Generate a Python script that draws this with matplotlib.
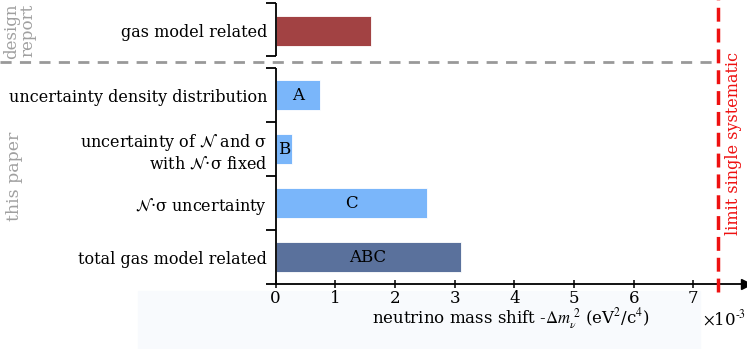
import numpy as np
import matplotlib
matplotlib.use("Agg")
import matplotlib.pyplot as plt
from matplotlib.patches import Rectangle

plt.rcParams['font.family'] = ['DejaVu Serif']
plt.rcParams['mathtext.fontset'] = 'stix'

# data (units of 1e-3 eV^2/c^4)
labels = ['total gas model related',
          r'$\mathcal{N}$·σ uncertainty',
          'uncertainty of $\\mathcal{N}$ and σ\nwith $\\mathcal{N}$·σ fixed',
          'uncertainty density distribution',
          'gas model related']
ypos = [0, 1, 2, 3, 4.19]
values = [3.1, 2.53, 0.27, 0.75, 1.6]
bar_text = ['ABC', 'C', 'B', 'A', '']
colors = ['#5a719c', '#7ab6fa', '#7ab6fa', '#7ab6fa', '#a24243']
limit = 7.42

fig = plt.figure(figsize=(7.47, 3.49), dpi=100)
ax = fig.add_axes([0.369, 0.1862, 0.6296, 0.8138])

# faint band behind the x label
fig.patches.append(Rectangle((138/747, 0), (700-138)/747, 58/349, transform=fig.transFigure,
                             color='#f8fafd', zorder=-1))

ax.barh(ypos, values, height=0.55, color=colors, edgecolor='white', linewidth=0.6, zorder=2)
for y, v, t in zip(ypos, values, bar_text):
    if t:
        ax.text(v/2, y, t, ha='center', va='center', fontsize=12, zorder=3)

ax.set_xlim(0, 7.88)
ax.set_ylim(-0.5, 4.76)

# y axis: two segments with bracket ticks
for spine in ['left', 'top', 'right']:
    ax.spines[spine].set_visible(False)
ax.spines['bottom'].set_linewidth(1.3)
ax.vlines(0, -0.5, 3.5, color='black', lw=1.3, clip_on=False, zorder=4)
ax.vlines(0, 3.72, 4.71, color='black', lw=1.3, clip_on=False, zorder=4)
ax.set_yticks(ypos)
ax.set_yticklabels(labels, fontsize=11.5)
ax.tick_params(axis='y', which='major', length=0, pad=6)
ax.set_yticks([-0.5, 0.5, 1.5, 2.5, 3.5, 3.72, 4.71], minor=True)
ax.tick_params(axis='y', which='minor', length=7, width=1.3, direction='out')

ax.set_xticks(np.arange(0, 8))
ax.tick_params(axis='x', length=6, width=1.1, direction='inout', labelsize=12, pad=1)
ax.plot(1, 0, marker='>', color='black', markersize=7, transform=ax.transAxes, clip_on=False, zorder=5)
ax.set_xlabel(r'neutrino mass shift -$\Delta m_{\nu}^{\ 2}$ (eV$^2$/c$^4$)', fontsize=12, labelpad=0)
fig.text(0.999, (349-319)/349, r'$\times$10$^{\text{-3}}$', ha='right', va='center', fontsize=12)

# separator and limit
ax.plot([-0.369*747/59.7, limit], [3.61, 3.61], color='#999999', lw=2, ls=(0, (4, 3)), clip_on=False, zorder=1)
ax.plot([limit, limit], [-0.65, 4.76], color='#ee1111', lw=2.5, ls=(0, (4, 2)), clip_on=False, zorder=5)
ax.text(limit + 0.25, 2.11, 'limit single systematic', color='#ee1111', rotation=90,
        ha='center', va='center', fontsize=11.5)

# group labels
ax.text(-4.29, 4.19, 'design\nreport', color='#a0a0a0', rotation=90, ha='center', va='center',
        fontsize=12, linespacing=0.95, clip_on=False)
ax.text(-4.38, 1.5, 'this paper', color='#a0a0a0', rotation=90, ha='center', va='center',
        fontsize=12.5, clip_on=False)

fig.savefig('out.png', dpi=100)
